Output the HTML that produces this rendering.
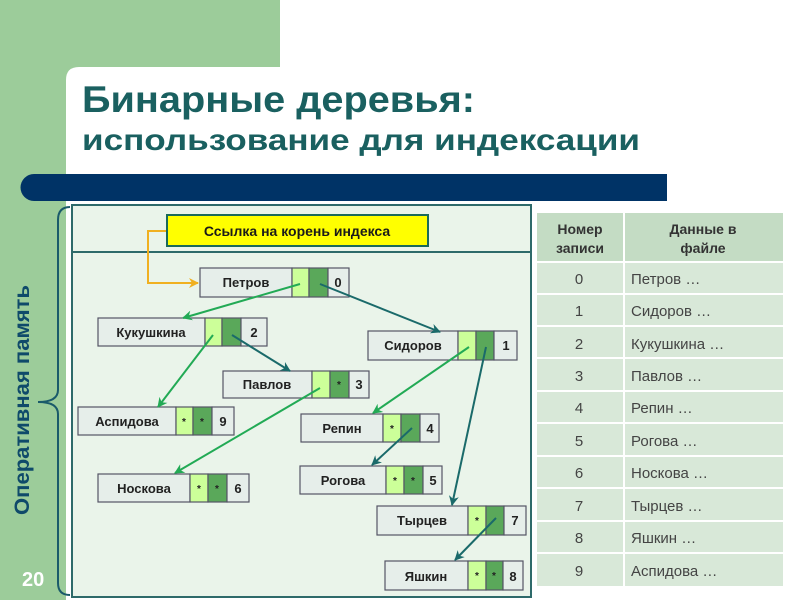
<!DOCTYPE html>
<html><head><meta charset="utf-8"><style>
body{margin:0;width:800px;height:600px;overflow:hidden;background:#fff}
svg{display:block}
text{font-family:"Liberation Sans","DejaVu Sans",sans-serif}
</style></head><body>
<svg width="800" height="600" viewBox="0 0 800 600" xmlns="http://www.w3.org/2000/svg">
<defs>
<marker id="ag" markerWidth="10" markerHeight="10" refX="9" refY="5" orient="auto" markerUnits="userSpaceOnUse"><path d="M0,0 L10,5 L0,10 L3,5Z" fill="#22aa55"/></marker>
<marker id="at" markerWidth="10" markerHeight="10" refX="9" refY="5" orient="auto" markerUnits="userSpaceOnUse"><path d="M0,0 L10,5 L0,10 L3,5Z" fill="#1a6a6a"/></marker>
<marker id="ao" markerWidth="10" markerHeight="10" refX="9" refY="5" orient="auto" markerUnits="userSpaceOnUse"><path d="M0,0 L10,5 L0,10 L3,5Z" fill="#f0b020"/></marker>
</defs>
<rect x="0" y="0" width="800" height="600" fill="#fff"/>
<rect x="0" y="0" width="280" height="100" fill="#9ccc9a"/>
<rect x="0" y="0" width="66" height="600" fill="#9ccc9a"/>
<path d="M66,100 L66,80 Q66,67 79,67 L280,67 L280,100Z" fill="#fff"/>
<rect x="66" y="80" width="734" height="520" fill="#fff"/>
<rect x="79" y="67" width="721" height="20" fill="#fff"/>
<text x="82" y="112" font-size="37" font-weight="bold" fill="#1a6060" textLength="393" lengthAdjust="spacingAndGlyphs">Бинарные деревья:</text>
<text x="82" y="150" font-size="30" font-weight="bold" fill="#1a6060" textLength="558" lengthAdjust="spacingAndGlyphs">использование для индексации</text>
<path d="M34,174 L667,174 L667,201 L34,201 A13.5,13.5 0 0 1 34,174Z" fill="#003366"/>
<text transform="translate(29,400) rotate(-90)" text-anchor="middle" font-size="21" font-weight="bold" fill="#0f4a6a" textLength="230" lengthAdjust="spacingAndGlyphs">Оперативная память</text>
<text x="22" y="586" font-size="20" font-weight="bold" fill="#fff">20</text>
<path d="M70,207 Q58,207 58,220 L58,390 Q58,402 38,402 Q58,402 58,414 L58,583 Q58,595 70,595" fill="none" stroke="#1a5a6a" stroke-width="2"/>
<rect x="72" y="205" width="459" height="392" fill="#eaf4ea" stroke="#2e6a6a" stroke-width="2"/>
<line x1="72" y1="252" x2="531" y2="252" stroke="#2e6a6a" stroke-width="2"/>
<rect x="167" y="215" width="261" height="31" fill="#ffff00" stroke="#1a6a5a" stroke-width="2"/>
<text x="297" y="236" text-anchor="middle" font-size="14" font-weight="bold" fill="#1a1a1a">Ссылка на корень индекса</text>
<polyline points="166,231 148,231 148,283 198,283" fill="none" stroke="#f0b020" stroke-width="2" marker-end="url(#ao)"/>
<g font-size="13" font-weight="bold" fill="#222" stroke-width="1.2">
<g><rect x="200" y="268" width="92" height="29" fill="#e6eeea" stroke="#556" /><rect x="292" y="268" width="17" height="29" fill="#ccff99" stroke="#556"/><rect x="309" y="268" width="19" height="29" fill="#5aa85a" stroke="#556"/><rect x="328" y="268" width="21" height="29" fill="#e6eeea" stroke="#556"/><text x="246" y="287" text-anchor="middle" stroke="none">Петров</text><text x="338" y="287" text-anchor="middle" stroke="none">0</text></g>
<g><rect x="98" y="318" width="107" height="28" fill="#e6eeea" stroke="#556"/><rect x="205" y="318" width="17" height="28" fill="#ccff99" stroke="#556"/><rect x="222" y="318" width="19" height="28" fill="#5aa85a" stroke="#556"/><rect x="241" y="318" width="26" height="28" fill="#e6eeea" stroke="#556"/><text x="151" y="337" text-anchor="middle" stroke="none">Кукушкина</text><text x="254" y="337" text-anchor="middle" stroke="none">2</text></g>
<g><rect x="368" y="331" width="90" height="29" fill="#e6eeea" stroke="#556"/><rect x="458" y="331" width="18" height="29" fill="#ccff99" stroke="#556"/><rect x="476" y="331" width="18" height="29" fill="#5aa85a" stroke="#556"/><rect x="494" y="331" width="23" height="29" fill="#e6eeea" stroke="#556"/><text x="413" y="350" text-anchor="middle" stroke="none">Сидоров</text><text x="506" y="350" text-anchor="middle" stroke="none">1</text></g>
<g><rect x="223" y="371" width="89" height="27" fill="#e6eeea" stroke="#556"/><rect x="312" y="371" width="18" height="27" fill="#ccff99" stroke="#556"/><rect x="330" y="371" width="19" height="27" fill="#5aa85a" stroke="#556"/><rect x="349" y="371" width="20" height="27" fill="#e6eeea" stroke="#556"/><text x="267" y="389" text-anchor="middle" stroke="none">Павлов</text><text x="339" y="388" text-anchor="middle" font-size="10" stroke="none">*</text><text x="359" y="389" text-anchor="middle" stroke="none">3</text></g>
<g><rect x="78" y="407" width="98" height="28" fill="#e6eeea" stroke="#556"/><rect x="176" y="407" width="17" height="28" fill="#ccff99" stroke="#556"/><rect x="193" y="407" width="19" height="28" fill="#5aa85a" stroke="#556"/><rect x="212" y="407" width="22" height="28" fill="#e6eeea" stroke="#556"/><text x="127" y="426" text-anchor="middle" stroke="none">Аспидова</text><text x="184" y="425" text-anchor="middle" font-size="10" stroke="none">*</text><text x="202" y="425" text-anchor="middle" font-size="10" stroke="none">*</text><text x="223" y="426" text-anchor="middle" stroke="none">9</text></g>
<g><rect x="301" y="414" width="82" height="28" fill="#e6eeea" stroke="#556"/><rect x="383" y="414" width="18" height="28" fill="#ccff99" stroke="#556"/><rect x="401" y="414" width="19" height="28" fill="#5aa85a" stroke="#556"/><rect x="420" y="414" width="19" height="28" fill="#e6eeea" stroke="#556"/><text x="342" y="433" text-anchor="middle" stroke="none">Репин</text><text x="392" y="432" text-anchor="middle" font-size="10" stroke="none">*</text><text x="430" y="433" text-anchor="middle" stroke="none">4</text></g>
<g><rect x="98" y="474" width="92" height="28" fill="#e6eeea" stroke="#556"/><rect x="190" y="474" width="18" height="28" fill="#ccff99" stroke="#556"/><rect x="208" y="474" width="19" height="28" fill="#5aa85a" stroke="#556"/><rect x="227" y="474" width="22" height="28" fill="#e6eeea" stroke="#556"/><text x="144" y="493" text-anchor="middle" stroke="none">Носкова</text><text x="199" y="492" text-anchor="middle" font-size="10" stroke="none">*</text><text x="217" y="492" text-anchor="middle" font-size="10" stroke="none">*</text><text x="238" y="493" text-anchor="middle" stroke="none">6</text></g>
<g><rect x="300" y="466" width="86" height="28" fill="#e6eeea" stroke="#556"/><rect x="386" y="466" width="18" height="28" fill="#ccff99" stroke="#556"/><rect x="404" y="466" width="19" height="28" fill="#5aa85a" stroke="#556"/><rect x="423" y="466" width="19" height="28" fill="#e6eeea" stroke="#556"/><text x="343" y="485" text-anchor="middle" stroke="none">Рогова</text><text x="395" y="484" text-anchor="middle" font-size="10" stroke="none">*</text><text x="413" y="484" text-anchor="middle" font-size="10" stroke="none">*</text><text x="433" y="485" text-anchor="middle" stroke="none">5</text></g>
<g><rect x="377" y="506" width="91" height="29" fill="#e6eeea" stroke="#556"/><rect x="468" y="506" width="18" height="29" fill="#ccff99" stroke="#556"/><rect x="486" y="506" width="18" height="29" fill="#5aa85a" stroke="#556"/><rect x="504" y="506" width="22" height="29" fill="#e6eeea" stroke="#556"/><text x="422" y="525" text-anchor="middle" stroke="none">Тырцев</text><text x="477" y="524" text-anchor="middle" font-size="10" stroke="none">*</text><text x="515" y="525" text-anchor="middle" stroke="none">7</text></g>
<g><rect x="385" y="561" width="83" height="29" fill="#e6eeea" stroke="#556"/><rect x="468" y="561" width="18" height="29" fill="#ccff99" stroke="#556"/><rect x="486" y="561" width="17" height="29" fill="#5aa85a" stroke="#556"/><rect x="503" y="561" width="20" height="29" fill="#e6eeea" stroke="#556"/><text x="426" y="581" text-anchor="middle" stroke="none">Яшкин</text><text x="477" y="579" text-anchor="middle" font-size="10" stroke="none">*</text><text x="494" y="579" text-anchor="middle" font-size="10" stroke="none">*</text><text x="513" y="581" text-anchor="middle" stroke="none">8</text></g>
</g>
<g stroke-width="2" fill="none">
<line x1="300" y1="284" x2="183" y2="318" stroke="#22aa55" marker-end="url(#ag)"/>
<line x1="320" y1="284" x2="440" y2="332" stroke="#1a6a6a" marker-end="url(#at)"/>
<line x1="213" y1="335" x2="158" y2="407" stroke="#22aa55" marker-end="url(#ag)"/>
<line x1="232" y1="335" x2="290" y2="371" stroke="#1a6a6a" marker-end="url(#at)"/>
<line x1="320" y1="388" x2="175" y2="473" stroke="#22aa55" marker-end="url(#ag)"/>
<line x1="469" y1="347" x2="373" y2="413" stroke="#22aa55" marker-end="url(#ag)"/>
<line x1="486" y1="347" x2="452" y2="505" stroke="#1a6a6a" marker-end="url(#at)"/>
<line x1="412" y1="428" x2="372" y2="465" stroke="#1a6a6a" marker-end="url(#at)"/>
<line x1="496" y1="518" x2="455" y2="560" stroke="#1a6a6a" marker-end="url(#at)"/>
</g>
<g fill="#333">
<rect x="537" y="213" width="246" height="48" fill="#c4dcc4"/>
<text x="580" y="234" text-anchor="middle" font-size="14" font-weight="bold">Номер</text>
<text x="580" y="253" text-anchor="middle" font-size="14" font-weight="bold">записи</text>
<text x="703" y="234" text-anchor="middle" font-size="14" font-weight="bold">Данные в</text>
<text x="703" y="253" text-anchor="middle" font-size="14" font-weight="bold">файле</text>
</g>
<g font-size="15" fill="#444">
<rect x="537" y="263" width="246" height="30" fill="#d8e8d8"/><rect x="537" y="295" width="246" height="30" fill="#d8e8d8"/><rect x="537" y="327" width="246" height="30" fill="#d8e8d8"/><rect x="537" y="359" width="246" height="31" fill="#d8e8d8"/><rect x="537" y="392" width="246" height="30" fill="#d8e8d8"/><rect x="537" y="424" width="246" height="31" fill="#d8e8d8"/><rect x="537" y="457" width="246" height="30" fill="#d8e8d8"/><rect x="537" y="489" width="246" height="31" fill="#d8e8d8"/><rect x="537" y="522" width="246" height="30" fill="#d8e8d8"/><rect x="537" y="554" width="246" height="32" fill="#d8e8d8"/>
<line x1="624" y1="213" x2="624" y2="586" stroke="#fff" stroke-width="2"/>
<text x="579" y="284" text-anchor="middle">0</text><text x="631" y="284">Петров …</text>
<text x="579" y="316" text-anchor="middle">1</text><text x="631" y="316">Сидоров …</text>
<text x="579" y="349" text-anchor="middle">2</text><text x="631" y="349">Кукушкина …</text>
<text x="579" y="381" text-anchor="middle">3</text><text x="631" y="381">Павлов …</text>
<text x="579" y="413" text-anchor="middle">4</text><text x="631" y="413">Репин …</text>
<text x="579" y="446" text-anchor="middle">5</text><text x="631" y="446">Рогова …</text>
<text x="579" y="478" text-anchor="middle">6</text><text x="631" y="478">Носкова …</text>
<text x="579" y="511" text-anchor="middle">7</text><text x="631" y="511">Тырцев …</text>
<text x="579" y="543" text-anchor="middle">8</text><text x="631" y="543">Яшкин …</text>
<text x="579" y="576" text-anchor="middle">9</text><text x="631" y="576">Аспидова …</text>
</g>
</svg>
</body></html>
